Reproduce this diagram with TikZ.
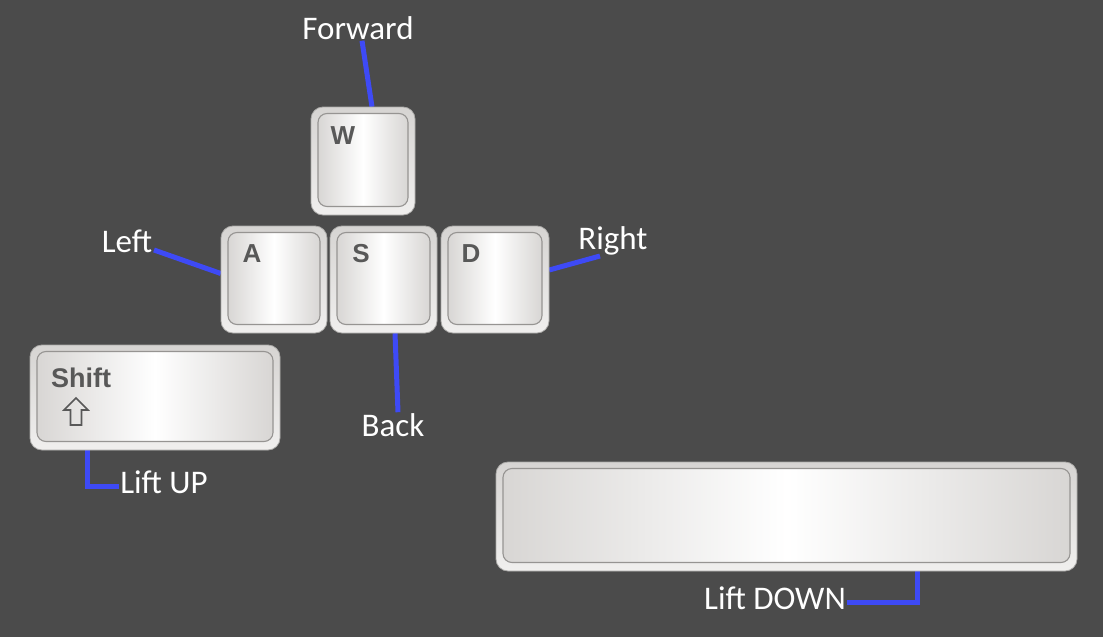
\documentclass[tikz,border=0pt]{standalone}
\usepackage{fontspec}
\setmainfont{Carlito}
\newfontfamily\keyfont{Liberation Sans}
\definecolor{bg}{RGB}{75,75,75}
\definecolor{wire}{RGB}{62,74,246}
\definecolor{rim}{RGB}{214,212,210}
\definecolor{rimlight}{RGB}{240,239,238}
\definecolor{faceedge}{RGB}{216,214,212}
\definecolor{facebord}{RGB}{150,148,146}
\definecolor{glyph}{RGB}{88,88,88}
\begin{document}
\begin{tikzpicture}[x=1pt,y=-1pt,
  keyout/.style={rounded corners=12pt, draw=rim!80!black, line width=0.8pt,
    top color=rim, bottom color=rimlight, inner sep=0pt},
  keyin/.style={rounded corners=9pt, draw=facebord, line width=1.1pt,
    left color=faceedge, right color=faceedge, middle color=white, inner sep=0pt},
  glyphtxt/.style={font=\keyfont\bfseries\fontsize{26}{26}\selectfont, text=glyph, inner sep=0pt},
  lbl/.style={font=\fontsize{33}{33}\selectfont, text=white, inner sep=1pt},
  wireline/.style={draw=wire, line width=5pt}
]
\fill[bg] (0,0) rectangle (1103,637);
\useasboundingbox (0,0) rectangle (1103,637);

% key outlines (for names)
\path
  node[minimum width=104pt, minimum height=108pt] (kw) at (363,161) {}
  node[minimum width=106pt, minimum height=107pt] (ka) at (274,279.5) {}
  node[minimum width=107pt, minimum height=107pt] (ks) at (383.5,279.5) {}
  node[minimum width=108pt, minimum height=107pt] (kd) at (495,279.5) {}
  node[minimum width=250pt, minimum height=105pt] (kshift) at (155,397.5) {}
  node[minimum width=581pt, minimum height=109pt] (kspace) at (786.5,516.5) {};

% labels
\node[lbl] (fwd) at (358,28) {Forward};
\node[lbl] (lft) at (127,241) {Left};
\node[lbl] (rgt) at (613,241) {Right};
\node[lbl] (bck) at (393,425) {Back};
\node[lbl] (lup) at (164,482) {Lift UP};
\node[lbl] (ldn) at (775,598) {Lift DOWN};
\coordinate (rgtend) at (600,256);
\coordinate (lftend) at (154,250);

% connectors
\draw[wireline] ([xshift=9pt]kw.north) -- ([xshift=4pt]fwd.south);
\draw[wireline] ([yshift=6pt]ka.west) -- (lftend);
\draw[wireline] ([yshift=9.5pt]kd.east) -- (rgtend);
\draw[wireline] ([xshift=11.5pt]ks.south) -- ([xshift=5pt]bck.north);
\draw[wireline] ([xshift=-68pt]kshift.south) |- ([yshift=-4pt]lup.west);
\draw[wireline] ([xshift=130.5pt]kspace.south) |- ([yshift=-4pt]ldn.east);

% keys
\foreach \k/\w/\h in {kw/104/108, ka/106/107, ks/107/107, kd/108/107, kshift/250/105, kspace/581/109}{
  \node[keyout, minimum width=\w pt, minimum height=\h pt] at (\k.center) {};
  \node[keyin, minimum width=\w pt-14pt, minimum height=\h pt-15pt] at ([yshift=1pt]\k.center) {};
}

% glyphs
\node[glyphtxt] (gw) at (343,136) {W};
\node[glyphtxt] (ga) at (252,254) {A};
\node[glyphtxt] (gs) at (361,254) {S};
\node[glyphtxt] (gd) at (471,254) {D};
\node[glyphtxt, font=\keyfont\bfseries\fontsize{27}{27}\selectfont] (gshift) at (81,378) {Shift};
\draw[glyph, line width=1.6pt, line join=miter]
  (76,398) -- (88,410) -- (81.5,410) -- (81.5,425) -- (70.5,425) -- (70.5,410) -- (64,410) -- cycle;
\end{tikzpicture}
\end{document}
